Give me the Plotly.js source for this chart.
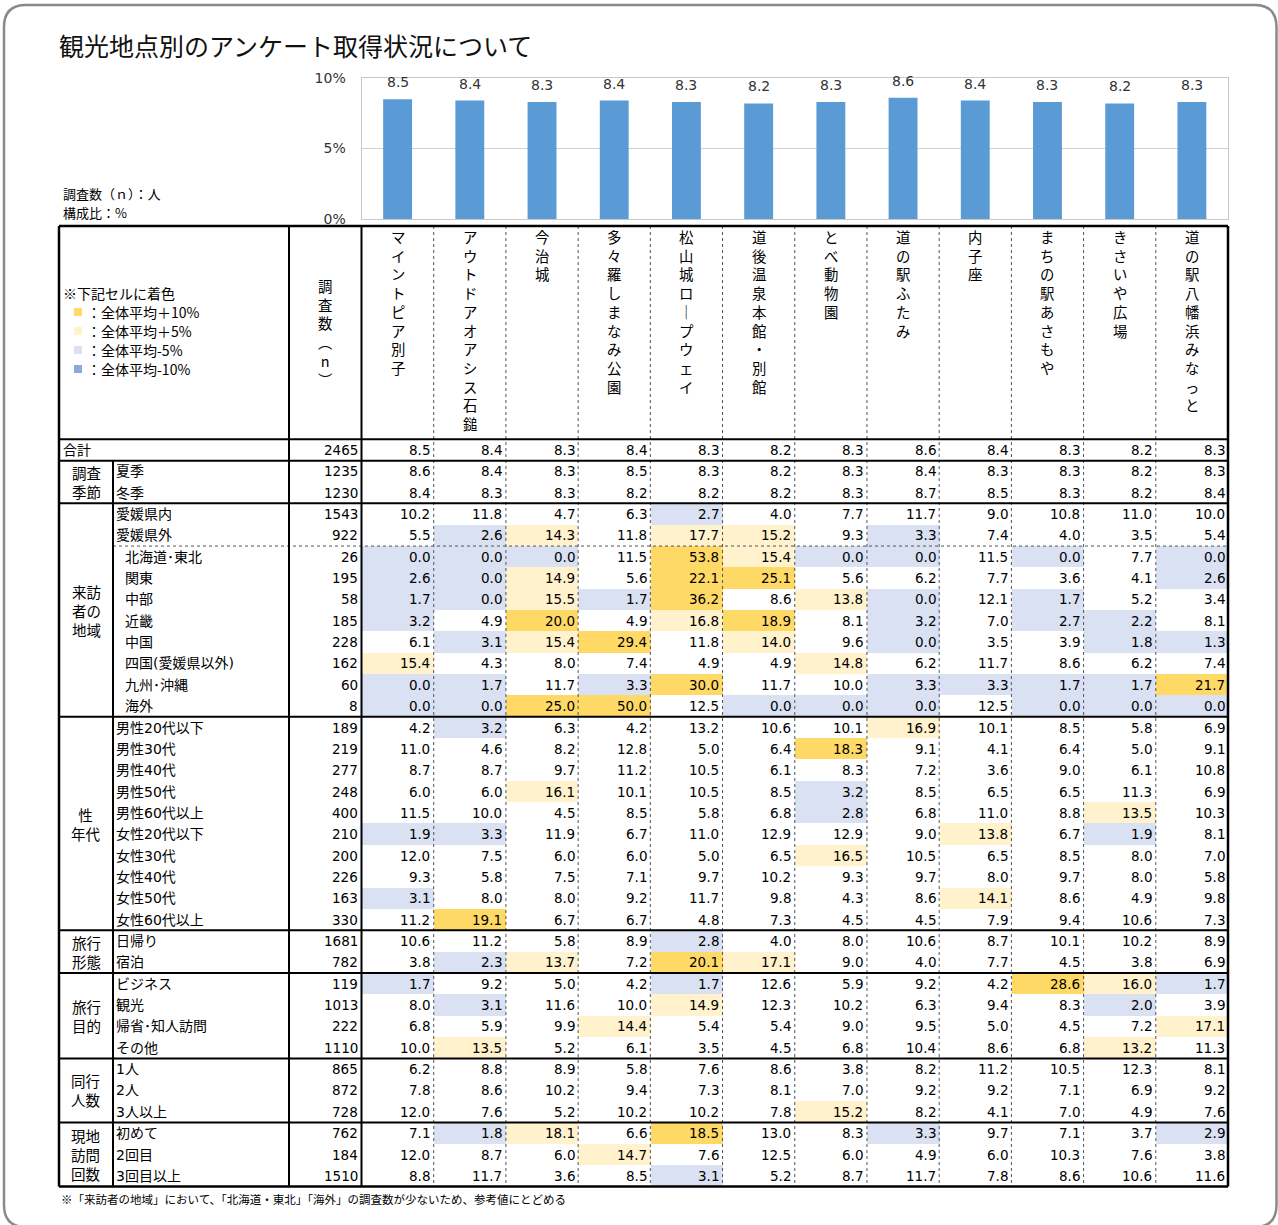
<!DOCTYPE html>
<html><head><meta charset="utf-8">
<script src="https://cdn.plot.ly/plotly-3.0.1.min.js"></script>
<style>html,body{margin:0;padding:0;background:#fff}#chart{width:1278px;height:1225px}</style>
</head><body><div id="chart"></div>
<script>
// ---------------- DATA ----------------
const places = ['マイントピア別子','アウトドアオアシス石鎚','今治城','多々羅しまなみ公園','松山城ロープウェイ','道後温泉本館・別館','とべ動物園','道の駅ふたみ','内子座','まちの駅あさもや','きさいや広場','道の駅八幡浜みなっと'];
const totalShare = [8.5, 8.4, 8.3, 8.4, 8.3, 8.2, 8.3, 8.6, 8.4, 8.3, 8.2, 8.3];
const totalN = 2465;
const totalLabel = '合計';

const groupNames = ['調査\n季節', '来訪\n者の\n地域', '性\n年代', '旅行\n形態', '旅行\n目的', '同行\n人数', '現地\n訪問\n回数'];
const groupSizes = [2, 10, 10, 2, 4, 3, 3];

const rowLabels = ['夏季','冬季','愛媛県内','愛媛県外','北海道･東北','関東','中部','近畿','中国','四国(愛媛県以外)','九州･沖縄','海外',
  '男性20代以下','男性30代','男性40代','男性50代','男性60代以上','女性20代以下','女性30代','女性40代','女性50代','女性60代以上',
  '日帰り','宿泊','ビジネス','観光','帰省･知人訪問','その他','1人','2人','3人以上','初めて','2回目','3回目以上'];
const rowN = [1235,1230,1543,922,26,195,58,185,228,162,60,8,189,219,277,248,400,210,200,226,163,330,1681,782,119,1013,222,1110,865,872,728,762,184,1510];
const rowShares = [
  [8.6, 8.4, 8.3, 8.5, 8.3, 8.2, 8.3, 8.4, 8.3, 8.3, 8.2, 8.3],
  [8.4, 8.3, 8.3, 8.2, 8.2, 8.2, 8.3, 8.7, 8.5, 8.3, 8.2, 8.4],
  [10.2, 11.8, 4.7, 6.3, 2.7, 4.0, 7.7, 11.7, 9.0, 10.8, 11.0, 10.0],
  [5.5, 2.6, 14.3, 11.8, 17.7, 15.2, 9.3, 3.3, 7.4, 4.0, 3.5, 5.4],
  [0.0, 0.0, 0.0, 11.5, 53.8, 15.4, 0.0, 0.0, 11.5, 0.0, 7.7, 0.0],
  [2.6, 0.0, 14.9, 5.6, 22.1, 25.1, 5.6, 6.2, 7.7, 3.6, 4.1, 2.6],
  [1.7, 0.0, 15.5, 1.7, 36.2, 8.6, 13.8, 0.0, 12.1, 1.7, 5.2, 3.4],
  [3.2, 4.9, 20.0, 4.9, 16.8, 18.9, 8.1, 3.2, 7.0, 2.7, 2.2, 8.1],
  [6.1, 3.1, 15.4, 29.4, 11.8, 14.0, 9.6, 0.0, 3.5, 3.9, 1.8, 1.3],
  [15.4, 4.3, 8.0, 7.4, 4.9, 4.9, 14.8, 6.2, 11.7, 8.6, 6.2, 7.4],
  [0.0, 1.7, 11.7, 3.3, 30.0, 11.7, 10.0, 3.3, 3.3, 1.7, 1.7, 21.7],
  [0.0, 0.0, 25.0, 50.0, 12.5, 0.0, 0.0, 0.0, 12.5, 0.0, 0.0, 0.0],
  [4.2, 3.2, 6.3, 4.2, 13.2, 10.6, 10.1, 16.9, 10.1, 8.5, 5.8, 6.9],
  [11.0, 4.6, 8.2, 12.8, 5.0, 6.4, 18.3, 9.1, 4.1, 6.4, 5.0, 9.1],
  [8.7, 8.7, 9.7, 11.2, 10.5, 6.1, 8.3, 7.2, 3.6, 9.0, 6.1, 10.8],
  [6.0, 6.0, 16.1, 10.1, 10.5, 8.5, 3.2, 8.5, 6.5, 6.5, 11.3, 6.9],
  [11.5, 10.0, 4.5, 8.5, 5.8, 6.8, 2.8, 6.8, 11.0, 8.8, 13.5, 10.3],
  [1.9, 3.3, 11.9, 6.7, 11.0, 12.9, 12.9, 9.0, 13.8, 6.7, 1.9, 8.1],
  [12.0, 7.5, 6.0, 6.0, 5.0, 6.5, 16.5, 10.5, 6.5, 8.5, 8.0, 7.0],
  [9.3, 5.8, 7.5, 7.1, 9.7, 10.2, 9.3, 9.7, 8.0, 9.7, 8.0, 5.8],
  [3.1, 8.0, 8.0, 9.2, 11.7, 9.8, 4.3, 8.6, 14.1, 8.6, 4.9, 9.8],
  [11.2, 19.1, 6.7, 6.7, 4.8, 7.3, 4.5, 4.5, 7.9, 9.4, 10.6, 7.3],
  [10.6, 11.2, 5.8, 8.9, 2.8, 4.0, 8.0, 10.6, 8.7, 10.1, 10.2, 8.9],
  [3.8, 2.3, 13.7, 7.2, 20.1, 17.1, 9.0, 4.0, 7.7, 4.5, 3.8, 6.9],
  [1.7, 9.2, 5.0, 4.2, 1.7, 12.6, 5.9, 9.2, 4.2, 28.6, 16.0, 1.7],
  [8.0, 3.1, 11.6, 10.0, 14.9, 12.3, 10.2, 6.3, 9.4, 8.3, 2.0, 3.9],
  [6.8, 5.9, 9.9, 14.4, 5.4, 5.4, 9.0, 9.5, 5.0, 4.5, 7.2, 17.1],
  [10.0, 13.5, 5.2, 6.1, 3.5, 4.5, 6.8, 10.4, 8.6, 6.8, 13.2, 11.3],
  [6.2, 8.8, 8.9, 5.8, 7.6, 8.6, 3.8, 8.2, 11.2, 10.5, 12.3, 8.1],
  [7.8, 8.6, 10.2, 9.4, 7.3, 8.1, 7.0, 9.2, 9.2, 7.1, 6.9, 9.2],
  [12.0, 7.6, 5.2, 10.2, 10.2, 7.8, 15.2, 8.2, 4.1, 7.0, 4.9, 7.6],
  [7.1, 1.8, 18.1, 6.6, 18.5, 13.0, 8.3, 3.3, 9.7, 7.1, 3.7, 2.9],
  [12.0, 8.7, 6.0, 14.7, 7.6, 12.5, 6.0, 4.9, 6.0, 10.3, 7.6, 3.8],
  [8.8, 11.7, 3.6, 8.5, 3.1, 5.2, 8.7, 11.7, 7.8, 8.6, 10.6, 11.6]
];
const legendTitle = '※下記セルに着色';
const legendLabels = ['：全体平均＋10%', '：全体平均＋5%', '：全体平均-5%', '：全体平均-10%'];
const legendClasses = [2, 1, -1, -2];
const yTicks = [0, 5, 10];
const yTickText = ['0%', '5%', '10%'];
const chartTitle = '観光地点別のアンケート取得状況について';
const noteLines = ['調査数（ｎ）：人', '構成比：%'];
const nHeader = ['調','査','数','︵','n','︶'];
const footnote = '※「来訪者の地域」において、「北海道・東北」「海外」の調査数が少ないため、参考値にとどめる';

// ---------------- LAYOUT CONSTANTS ----------------
const W = 1278, H = 1225;
const G = { left: 59, sub: 113, nL: 289, dL: 361.5, right: 1228, top: 226, head: 439.3, rowH: 21.35 };
const CJK = 'Noto Sans CJK JP, sans-serif';
const NUM = 'DejaVu Sans, Noto Sans CJK JP, sans-serif';
const palette = { '-2': '#8EA9DB', '-1': '#D9E1F2', '0': '#FFFFFF', '1': '#FFF2CC', '2': '#FFD966' };

const tableShares = [totalShare].concat(rowShares);
const tableN = [totalN].concat(rowN);
const nRows = tableShares.length, nCols = places.length;
const colW = (G.right - G.dL) / nCols;
const rowTop = i => G.head + i * G.rowH;
const rowMid = i => G.head + (i + 0.5) * G.rowH;
const colMid = j => G.dL + (j + 0.5) * colW;
const colRight = j => G.dL + (j + 1) * colW;
const bottom = rowTop(nRows);

// colour class from deviation vs overall average (合計 row)
const eps = 1e-6;
const cls = tableShares.map(row => row.map((v, j) => {
  const d = v - totalShare[j];
  return d >= 10 - eps ? 2 : d >= 5 - eps ? 1 : d <= -10 + eps ? -2 : d <= -5 + eps ? -1 : 0;
}));

// ---------------- TRACES ----------------
const traces = [];
traces.push({
  type: 'bar', x: places, y: totalShare, xaxis: 'x', yaxis: 'y',
  marker: { color: '#5B9BD5' }, width: 0.4, hoverinfo: 'skip'
});
traces.push({
  type: 'heatmap', z: cls, x0: colMid(0), dx: colW, y0: rowMid(0), dy: G.rowH,
  xaxis: 'x2', yaxis: 'y2', zmin: -2, zmax: 2, showscale: false, hoverinfo: 'skip',
  colorscale: [[0, palette['-2']], [0.125, palette['-2']], [0.125, palette['-1']], [0.375, palette['-1']],
    [0.375, palette['0']], [0.625, palette['0']], [0.625, palette['1']], [0.875, palette['1']],
    [0.875, palette['2']], [1, palette['2']]]
});
const legY0 = 312, legStep = 19;
traces.push({
  type: 'scatter', mode: 'markers', xaxis: 'x2', yaxis: 'y2', cliponaxis: false, hoverinfo: 'skip',
  x: legendClasses.map(() => 78), y: legendClasses.map((c, k) => legY0 + k * legStep),
  marker: { symbol: 'square', size: 8, color: legendClasses.map(c => palette[String(c)]) }
});

// ---------------- SHAPES ----------------
const shapes = [];
const line = (x0, y0, x1, y1, w, dash, color) => shapes.push({
  type: 'line', xref: 'x2', yref: 'y2', x0, y0, x1, y1, layer: 'above',
  line: { color: color || '#000', width: w, dash: dash || 'solid' }
});
// frame
const fr = { l: 4, t: 5, r: 1276.5, b: 1227, rad: 22 };
shapes.push({
  type: 'path', xref: 'x2', yref: 'y2', layer: 'above',
  path: `M ${fr.l + fr.rad},${fr.t} L ${fr.r - fr.rad},${fr.t} Q ${fr.r},${fr.t} ${fr.r},${fr.t + fr.rad} L ${fr.r},${fr.b - fr.rad} Q ${fr.r},${fr.b} ${fr.r - fr.rad},${fr.b} L ${fr.l + fr.rad},${fr.b} Q ${fr.l},${fr.b} ${fr.l},${fr.b - fr.rad} L ${fr.l},${fr.t + fr.rad} Q ${fr.l},${fr.t} ${fr.l + fr.rad},${fr.t} Z`,
  line: { color: '#8A8A8A', width: 2.5 }
});
// dotted column separators
for (let k = 1; k < nCols; k++) line(G.dL + k * colW, G.top, G.dL + k * colW, bottom, 1, 'dot', '#555');
// dotted row separator inside region group (after 愛媛県外)
line(G.sub, rowTop(5), G.right, rowTop(5), 1, 'dot', '#555');
// group separators
const groupEnds = [1];
groupSizes.forEach(s => groupEnds.push(groupEnds[groupEnds.length - 1] + s));
line(G.left, G.top, G.right, G.top, 2.5);
line(G.left, G.head, G.right, G.head, 2);
groupEnds.forEach(r => line(G.left, rowTop(r), G.right, rowTop(r), r === nRows ? 2.5 : 2));
// vertical solid lines
line(G.left, G.top, G.left, bottom, 2.5);
line(G.right, G.top, G.right, bottom, 2.5);
line(G.nL, G.top, G.nL, bottom, 2);
line(G.dL, G.top, G.dL, bottom, 2);
line(G.sub, rowTop(1), G.sub, bottom, 2);

// ---------------- ANNOTATIONS ----------------
const anns = [];
const ann = (x, y, text, o = {}) => anns.push(Object.assign({
  xref: 'x2', yref: 'y2', x, y, text, showarrow: false, xanchor: 'left', yanchor: 'middle',
  font: { family: CJK, size: 14, color: '#000' }
}, o));

ann(57, 45, chartTitle, { font: { family: CJK, size: 25, color: '#111' } });
noteLines.forEach((t, k) => ann(61, 193 + k * 19, t, { font: { family: CJK, size: 13, color: '#000' } }));

// bar labels
totalShare.forEach((v, j) => anns.push({
  xref: 'x', yref: 'y', x: places[j], y: v, text: v.toFixed(1), showarrow: false,
  xanchor: 'center', yanchor: 'bottom', yshift: 7,
  font: { family: NUM, size: 14, color: '#333' }
}));

// legend cell
ann(61, 293, legendTitle, { font: { family: CJK, size: 14, color: '#000' } });
legendLabels.forEach((t, k) => ann(85, legY0 + k * legStep, t, { font: { family: CJK, size: 14, color: '#000' } }));

// header names (vertical)
places.forEach((p, j) => ann(colMid(j), G.top - 2, p.split('').map(c => c === 'ー' ? '｜' : c).join('<br>'),
  { xanchor: 'center', yanchor: 'top', align: 'center', font: { family: CJK, size: 14.4, color: '#000' } }));
ann((G.nL + G.dL) / 2, (G.top + G.head) / 2, nHeader.join('<br>'),
  { xanchor: 'center', align: 'center', font: { family: CJK, size: 14.4, color: '#000' } });

// row labels
ann(G.left + 2, rowMid(0), totalLabel, { font: { family: NUM, size: 14, color: '#000' } });
rowLabels.forEach((t, i) => {
  const r = i + 1;
  const indent = (r >= 5 && r <= 12) ? 10 : 1;
  ann(G.sub + indent, rowMid(r), t, { font: { family: NUM, size: 14, color: '#000' } });
});
// group labels
let start = 1;
groupNames.forEach((g, k) => {
  const end = start + groupSizes[k];
  ann((G.left + G.sub) / 2, (rowTop(start) + rowTop(end)) / 2, g.split('\n').join('<br>'),
    { xanchor: 'center', align: 'center', font: { family: CJK, size: 14.5, color: '#000' } });
  start = end;
});
// n values
tableN.forEach((n, i) => ann(G.dL - 1.5, rowMid(i), String(n), { xanchor: 'right', font: { family: NUM, size: 13.5, color: '#000' } }));
// cell values
tableShares.forEach((row, i) => row.forEach((v, j) =>
  ann(colRight(j) - 1.5, rowMid(i), v.toFixed(1), { xanchor: 'right', font: { family: NUM, size: 13.5, color: '#000' } })));
// footnote
ann(59, 1199, footnote, { font: { family: CJK, size: 11.5, color: '#000' } });

// ---------------- LAYOUT ----------------
const layout = {
  width: W, height: H, margin: { l: 0, r: 0, t: 0, b: 0 },
  paper_bgcolor: '#fff', plot_bgcolor: 'rgba(0,0,0,0)', showlegend: false,
  xaxis: { domain: [G.dL / W, G.right / W], range: [-0.5, nCols - 0.5], showticklabels: false, showgrid: false,
    zeroline: false, showline: true, mirror: true, linecolor: '#C8C8C8', linewidth: 1, fixedrange: true, anchor: 'y' },
  yaxis: { domain: [1 - 219 / H, 1 - 78 / H], range: [0, 10], tickmode: 'array', tickvals: yTicks, ticktext: yTickText,
    showgrid: true, gridcolor: '#D0D0D0', zeroline: false, showline: true, mirror: true, linecolor: '#C8C8C8',
    ticks: 'outside', ticklen: 12, tickcolor: 'rgba(0,0,0,0)', tickfont: { family: NUM, size: 14, color: '#333' },
    fixedrange: true, anchor: 'x' },
  xaxis2: { domain: [0, 1], range: [0, W], visible: false, fixedrange: true, anchor: 'y2' },
  yaxis2: { domain: [0, 1], range: [H, 0], visible: false, fixedrange: true, anchor: 'x2' },
  shapes, annotations: anns
};
Plotly.newPlot('chart', traces, layout, { staticPlot: true, displayModeBar: false });
</script></body></html>
